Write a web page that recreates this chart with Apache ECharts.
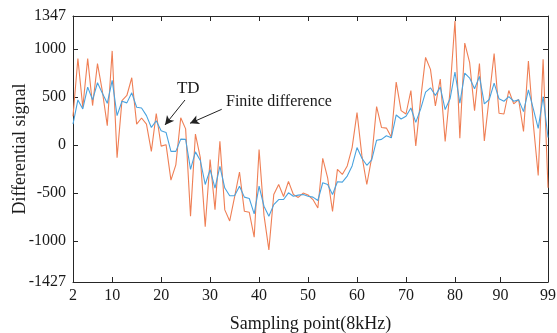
<!DOCTYPE html>
<html><head><meta charset="utf-8">
<script src="https://cdn.jsdelivr.net/npm/echarts@6/dist/echarts.min.js"></script>
<style>html,body{margin:0;padding:0;background:#fff}#c{width:557px;height:333px}</style>
</head><body><div id="c"></div>
<script>
const samplePoints = [2,3,4,5,6,7,8,9,10,11,12,13,14,15,16,17,18,19,20,21,22,23,24,25,26,27,28,29,30,31,32,33,34,35,36,37,38,39,40,41,42,43,44,45,46,47,48,49,50,51,52,53,54,55,56,57,58,59,60,61,62,63,64,65,66,67,68,69,70,71,72,73,74,75,76,77,78,79,80,81,82,83,84,85,86,87,88,89,90,91,92,93,94,95,96,97,98,99];
const finiteDifference = [300,903,395,903,413,850,560,203,983,-130,465,518,703,220,283,220,-65,330,-10,5,-365,-205,285,170,-740,115,-130,-850,-150,-672,40,-675,-790,-540,-280,-690,-700,-960,-45,-730,-1092,-515,-410,-535,-378,-515,-545,-500,-520,-567,-655,-137,-340,-690,-252,-305,-217,-25,340,-112,-410,-130,403,185,178,85,658,360,325,570,-7,483,915,790,410,690,38,570,1295,73,1065,860,360,850,45,500,955,333,325,570,430,476,143,878,220,-315,896,-445];
const tdSignal = [220,472,378,605,472,651,542,437,675,308,458,441,546,395,388,308,185,255,150,133,-65,-65,63,60,-252,-70,-160,-410,-255,-447,-220,-447,-528,-527,-428,-542,-556,-717,-427,-637,-742,-620,-567,-567,-497,-532,-521,-515,-532,-542,-577,-392,-410,-515,-382,-385,-322,-217,-25,-137,-210,-154,52,60,98,77,315,273,301,388,238,378,553,598,518,605,371,483,763,437,752,700,588,717,430,476,647,483,458,507,458,472,350,577,378,175,507,80];
const xTickPos = [2,10,20,30,40,50,60,70,80,89.3,99];
const xTickLabels = ['2','10','20','30','40','50','60','70','80','90','99'];
const yTickValues = [-1427,-1000,-500,0,500,1000,1347];

const FONT = 'Liberation Serif';
const AX = '#262626';
const chart = echarts.init(document.getElementById('c'), null, {renderer:'canvas'});
function xfmt(v){ let best=0; for(let i=0;i<xTickPos.length;i++){ if(Math.abs(xTickPos[i]-v)<Math.abs(xTickPos[best]-v)) best=i; } return xTickLabels[best]; }
const xBase = {type:'value', min:2, max:99, splitLine:{show:false},
  axisLine:{show:true, onZero:false, lineStyle:{color:AX, width:1}},
  axisTick:{show:true, inside:true, length:5, customValues:xTickPos, lineStyle:{color:AX}}};
const yBase = {type:'value', min:-1427, max:1347, splitLine:{show:false},
  axisLine:{show:true, onZero:false, lineStyle:{color:AX, width:1}},
  axisTick:{show:true, inside:true, length:5, customValues:yTickValues, lineStyle:{color:AX}}};
const option = {
  animation:false,
  backgroundColor:'#fff',
  grid:{left:73, right:9, top:16, bottom:51, containLabel:false, outerBoundsMode:'none'},
  xAxis:[
    Object.assign({}, xBase, {position:'bottom',
      axisLabel:{customValues:xTickPos, formatter:xfmt, fontFamily:FONT, fontSize:16, color:'#1a1a1a', margin:6},
      name:'Sampling point(8kHz)', nameLocation:'middle', nameGap:33, nameMoveOverlap:false,
      nameTextStyle:{fontFamily:FONT, fontSize:18, color:'#1a1a1a'}}),
    Object.assign({}, xBase, {position:'top', axisLabel:{show:false}})
  ],
  yAxis:[
    Object.assign({}, yBase, {position:'left',
      axisLabel:{customValues:yTickValues, formatter:(v)=>String(v), fontFamily:FONT, fontSize:16, color:'#1a1a1a', margin:7},
      name:'Differential signal', nameLocation:'middle', nameGap:44, nameMoveOverlap:false,
      nameTextStyle:{fontFamily:FONT, fontSize:18, color:'#1a1a1a'}}),
    Object.assign({}, yBase, {position:'right', axisLabel:{show:false}})
  ],
  series:[
    {name:'Finite difference', type:'line', showSymbol:false, symbol:'none',
     data:samplePoints.map((x,i)=>[x, finiteDifference[i]]),
     lineStyle:{color:'#EF7F55', width:1.1}, itemStyle:{color:'#EF7F55'},
     markLine:{silent:true, symbol:['none','arrow'], symbolSize:[7,9], animation:false,
       lineStyle:{color:'#222', width:1, type:'solid'}, label:{show:false},
       data:[
         [{coord:[24.87,471]},{coord:[20.79,211]}],
         [{coord:[32.37,374]},{coord:[25.9,228]}]
       ]},
     markPoint:{silent:true, animation:false,
       data:[
         {coord:[25.54,593], symbol:'circle', symbolSize:0,
          label:{show:true, formatter:'TD', position:[0,0], align:'center', verticalAlign:'middle', fontFamily:FONT, fontSize:17, color:'#1a1a1a'}},
         {coord:[33.25,450], symbol:'circle', symbolSize:0,
          label:{show:true, formatter:'Finite difference', position:[0,0], align:'left', verticalAlign:'middle', fontFamily:FONT, fontSize:16, color:'#1a1a1a'}}
       ]}
    },
    {name:'TD', type:'line', showSymbol:false, symbol:'none',
     data:samplePoints.map((x,i)=>[x, tdSignal[i]]),
     lineStyle:{color:'#4AA3DF', width:1.1}, itemStyle:{color:'#4AA3DF'}}
  ]
};
chart.setOption(option);
</script>
</body></html>
